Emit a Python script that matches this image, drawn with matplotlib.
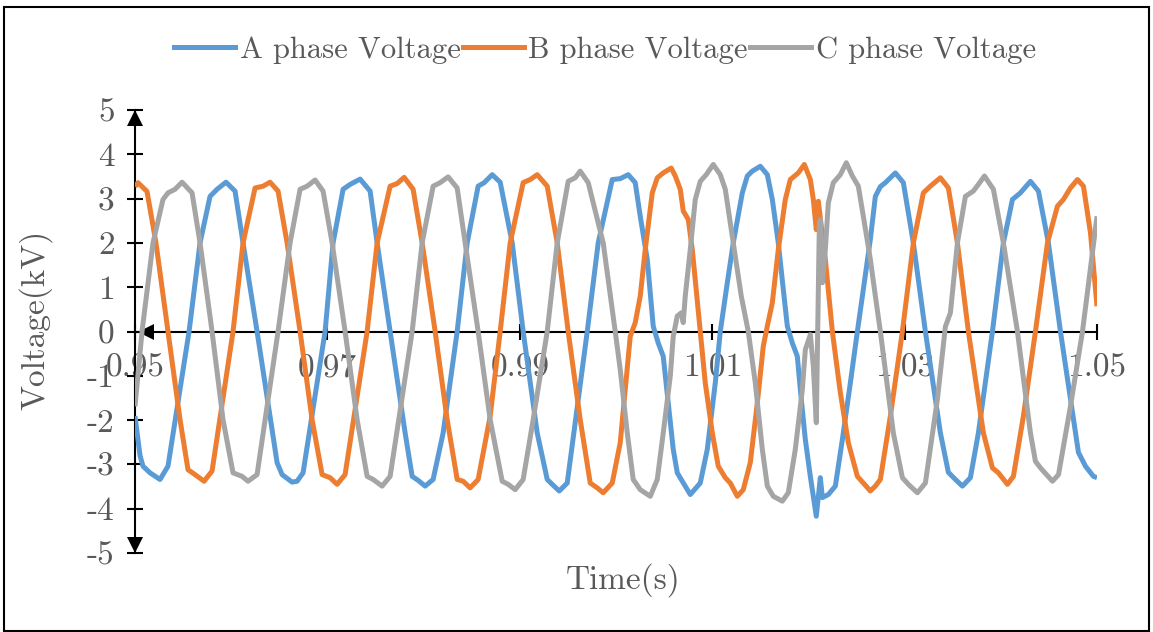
import numpy as np
import matplotlib
matplotlib.use("Agg")
import matplotlib.pyplot as plt
import matplotlib.transforms as mtransforms
from matplotlib.patches import Rectangle
from matplotlib.lines import Line2D

plt.rcParams["font.family"] = ["cmr10", "DejaVu Serif"]
plt.rcParams["axes.unicode_minus"] = False
plt.rcParams["axes.formatter.use_mathtext"] = True

# ---- three-phase voltage waveforms (time in s, voltage in kV) ----
time_a = [0.95000, 0.95052, 0.95083, 0.95156, 0.95260, 0.95343, 0.95562, 0.95676,
          0.95780, 0.95853, 0.95946, 0.96040, 0.96123, 0.96269, 0.96477, 0.96529,
          0.96633, 0.96685, 0.96747, 0.96976, 0.97059, 0.97163, 0.97236, 0.97340,
          0.97444, 0.97517, 0.97652, 0.97808, 0.97881, 0.97943, 0.98016, 0.98099,
          0.98203, 0.98349, 0.98453, 0.98567, 0.98630, 0.98713, 0.98796, 0.98921,
          0.99035, 0.99181, 0.99285, 0.99337, 0.99410, 0.99493, 0.99701, 0.99815,
          0.99961, 1.00044, 1.00127, 1.00200, 1.00252, 1.00325, 1.00356, 1.00387,
          1.00439, 1.00491, 1.00543, 1.00595, 1.00637, 1.00689, 1.00772, 1.00876,
          1.00949, 1.01032, 1.01084, 1.01157, 1.01219, 1.01313, 1.01365, 1.01417,
          1.01500, 1.01573, 1.01625, 1.01687, 1.01739, 1.01781, 1.01833, 1.01885,
          1.01916, 1.01968, 1.02020, 1.02051, 1.02082, 1.02124, 1.02145, 1.02207,
          1.02280, 1.02353, 1.02436, 1.02509, 1.02571, 1.02644, 1.02696, 1.02748,
          1.02800, 1.02904, 1.02987, 1.03091, 1.03216, 1.03372, 1.03455, 1.03528,
          1.03601, 1.03684, 1.03767, 1.03913, 1.04027, 1.04121, 1.04204, 1.04308,
          1.04391, 1.04495, 1.04620, 1.04807, 1.04880, 1.04963, 1.05000]
volt_a = [-1.91, -2.80, -3.04, -3.19, -3.34, -3.04, 0.00, 2.00,
          3.05, 3.21, 3.37, 3.17, 2.00, 0.00, -2.96, -3.23,
          -3.40, -3.38, -3.19, 0.00, 2.00, 3.21, 3.32, 3.44,
          3.17, 2.00, 0.00, -2.29, -3.27, -3.36, -3.49, -3.34,
          -2.29, 0.00, 2.00, 3.28, 3.36, 3.54, 3.37, 2.00,
          0.00, -2.29, -3.34, -3.45, -3.60, -3.42, 0.00, 2.00,
          3.43, 3.45, 3.54, 3.36, 2.60, 1.63, 0.87, 0.12,
          -0.26, -0.56, -1.61, -2.66, -3.19, -3.38, -3.68, -3.42,
          -2.66, -1.16, 0.00, 1.10, 2.00, 3.13, 3.51, 3.62,
          3.73, 3.54, 2.98, 2.00, 0.95, 0.12, -0.26, -0.56,
          -1.31, -2.44, -3.27, -3.72, -4.17, -3.30, -3.75, -3.68,
          -3.49, -2.44, -1.16, 0.00, 0.95, 2.08, 3.05, 3.27,
          3.36, 3.58, 3.36, 2.00, 0.00, -2.29, -3.18, -3.34,
          -3.49, -3.30, -2.29, 0.00, 2.00, 2.98, 3.13, 3.39,
          3.17, 2.00, 0.00, -2.73, -3.04, -3.27, -3.30]

time_b = [0.95000, 0.95031, 0.95125, 0.95218, 0.95343, 0.95468, 0.95551, 0.95624,
          0.95718, 0.95801, 0.96019, 0.96123, 0.96248, 0.96331, 0.96404, 0.96487,
          0.96581, 0.96716, 0.96841, 0.96945, 0.97028, 0.97101, 0.97184, 0.97413,
          0.97517, 0.97652, 0.97725, 0.97798, 0.97891, 0.97985, 0.98120, 0.98245,
          0.98349, 0.98411, 0.98484, 0.98567, 0.98692, 0.98796, 0.98900, 0.99035,
          0.99108, 0.99181, 0.99285, 0.99389, 0.99503, 0.99628, 0.99732, 0.99805,
          0.99867, 0.99961, 1.00044, 1.00096, 1.00148, 1.00200, 1.00252, 1.00304,
          1.00377, 1.00429, 1.00491, 1.00574, 1.00616, 1.00668, 1.00699, 1.00751,
          1.00793, 1.00876, 1.00928, 1.01001, 1.01063, 1.01136, 1.01188, 1.01261,
          1.01323, 1.01396, 1.01469, 1.01531, 1.01573, 1.01625, 1.01687, 1.01760,
          1.01812, 1.01895, 1.01958, 1.02020, 1.02051, 1.02082, 1.02103, 1.02134,
          1.02176, 1.02249, 1.02332, 1.02415, 1.02509, 1.02571, 1.02644, 1.02696,
          1.02748, 1.02852, 1.02977, 1.03091, 1.03195, 1.03268, 1.03372, 1.03455,
          1.03549, 1.03663, 1.03819, 1.03913, 1.03975, 1.04069, 1.04131, 1.04235,
          1.04360, 1.04485, 1.04589, 1.04651, 1.04724, 1.04797, 1.04859, 1.04932,
          1.05000]
volt_b = [3.27, 3.36, 3.16, 2.00, 0.00, -1.99, -3.12, -3.23,
          -3.38, -3.15, 0.00, 2.00, 3.24, 3.28, 3.37, 3.17,
          2.00, 0.00, -1.99, -3.23, -3.30, -3.45, -3.23, 0.00,
          2.00, 3.28, 3.34, 3.48, 3.21, 2.00, 0.00, -1.99,
          -3.34, -3.38, -3.53, -3.34, -1.91, 0.00, 2.00, 3.36,
          3.43, 3.54, 3.28, 2.00, 0.00, -1.99, -3.42, -3.53,
          -3.64, -3.42, -2.51, -1.31, -0.11, 0.20, 0.80, 1.85,
          3.13, 3.47, 3.58, 3.69, 3.51, 3.21, 2.72, 2.53,
          1.85, 0.00, -1.16, -2.29, -3.04, -3.30, -3.42, -3.72,
          -3.57, -2.96, -1.61, -0.33, 0.12, 0.65, 1.85, 2.98,
          3.43, 3.58, 3.77, 3.43, 2.98, 2.30, 2.94, 2.38,
          1.63, 0.00, -1.38, -2.51, -3.27, -3.42, -3.60, -3.49,
          -3.34, -1.91, 0.00, 2.00, 3.13, 3.28, 3.47, 3.24,
          2.00, 0.00, -2.29, -3.08, -3.19, -3.45, -3.27, -1.91,
          0.00, 2.00, 2.83, 2.98, 3.24, 3.43, 3.28, 2.23,
          0.57]

time_c = [0.95000, 0.95073, 0.95187, 0.95291, 0.95343, 0.95416, 0.95489, 0.95593,
          0.95676, 0.95801, 0.95915, 0.96019, 0.96113, 0.96175, 0.96269, 0.96487,
          0.96612, 0.96716, 0.96789, 0.96872, 0.96955, 0.97049, 0.97184, 0.97309,
          0.97413, 0.97475, 0.97569, 0.97652, 0.97881, 0.97985, 0.98099, 0.98172,
          0.98255, 0.98349, 0.98432, 0.98567, 0.98692, 0.98817, 0.98879, 0.98952,
          0.99035, 0.99139, 0.99285, 0.99389, 0.99503, 0.99576, 0.99628, 0.99711,
          0.99867, 0.99992, 1.00044, 1.00117, 1.00179, 1.00252, 1.00356, 1.00429,
          1.00491, 1.00564, 1.00595, 1.00637, 1.00678, 1.00699, 1.00720, 1.00772,
          1.00824, 1.00876, 1.00938, 1.01011, 1.01084, 1.01136, 1.01219, 1.01302,
          1.01375, 1.01448, 1.01521, 1.01573, 1.01635, 1.01729, 1.01791, 1.01864,
          1.01937, 1.01968, 1.02020, 1.02051, 1.02082, 1.02114, 1.02124, 1.02145,
          1.02176, 1.02207, 1.02259, 1.02332, 1.02394, 1.02457, 1.02519, 1.02571,
          1.02644, 1.02696, 1.02748, 1.02883, 1.02977, 1.03039, 1.03133, 1.03216,
          1.03341, 1.03424, 1.03476, 1.03549, 1.03632, 1.03715, 1.03767, 1.03830,
          1.03923, 1.04027, 1.04173, 1.04308, 1.04360, 1.04413, 1.04537, 1.04600,
          1.04724, 1.04849, 1.05000]
volt_c = [-1.69, 0.00, 2.00, 2.98, 3.13, 3.21, 3.37, 3.13,
          2.00, 0.00, -1.99, -3.19, -3.27, -3.38, -3.23, 0.00,
          2.00, 3.21, 3.28, 3.42, 3.17, 2.00, 0.00, -1.99,
          -3.27, -3.34, -3.49, -3.27, 0.00, 2.00, 3.28, 3.36,
          3.49, 3.24, 2.00, 0.00, -1.99, -3.38, -3.45, -3.57,
          -3.34, -1.99, 0.00, 2.00, 3.39, 3.47, 3.62, 3.36,
          2.00, 0.00, -0.86, -2.29, -3.34, -3.57, -3.72, -3.34,
          -2.29, -1.01, -0.11, 0.35, 0.42, 0.20, 0.80, 1.85,
          2.98, 3.39, 3.54, 3.77, 3.54, 3.21, 2.00, 0.80,
          0.00, -1.16, -2.66, -3.49, -3.72, -3.83, -3.64, -2.66,
          -1.31, -0.41, -0.07, -0.78, -2.06, 2.45, 2.53, 1.10,
          1.85, 2.90, 3.36, 3.54, 3.81, 3.51, 3.28, 2.60,
          1.63, 0.80, 0.00, -2.29, -3.30, -3.45, -3.64, -3.42,
          -1.53, 0.11, 0.42, 2.00, 3.05, 3.17, 3.32, 3.51,
          3.21, 2.00, 0.00, -2.29, -2.93, -3.08, -3.38, -3.23,
          -1.69, 0.00, 2.60]

series_names = ["A phase Voltage", "B phase Voltage", "C phase Voltage"]
series_colors = ["#5B9BD5", "#ED7D31", "#A5A5A5"]

x_ticks = [0.95, 0.97, 0.99, 1.01, 1.03, 1.05]
x_tick_labels = ["0.95", "0.97", "0.99", "1.01", "1.03", "1.05"]
y_ticks = [-5, -4, -3, -2, -1, 0, 1, 2, 3, 4, 5]
y_tick_labels = ["-5", "-4", "-3", "-2", "-1", "0", "1", "2", "3", "4", "5"]

TEXT = "#595959"
FS = 24
LW = 3.6
W, H = 1153, 632

fig = plt.figure(figsize=(W / 100, H / 100), dpi=100)
ax = fig.add_axes([135 / W, 1 - 553 / H, (1097 - 135) / W, (553 - 110) / H])
ax.set_xlim(0.95, 1.05)
ax.set_ylim(-5, 5)
ax.patch.set_alpha(0)

series = [(time_a, volt_a), (time_b, volt_b), (time_c, volt_c)]
for (t, v), name, col in zip(series, series_names, series_colors):
    ax.plot(t, v, color=col, lw=LW, solid_joinstyle="round",
            solid_capstyle="butt", label=name, zorder=3)

# axes drawn as crossing lines through the origin of the voltage scale
for side in ("top", "right"):
    ax.spines[side].set_visible(False)
ax.spines["bottom"].set_position(("data", 0))
for side in ("left", "bottom"):
    ax.spines[side].set_linewidth(1.5)
    ax.spines[side].set_color("black")
    ax.spines[side].set_zorder(2)

ax.set_xticks(x_ticks)
ax.set_xticklabels(x_tick_labels)
ax.set_yticks(y_ticks)
ax.set_yticklabels(y_tick_labels)
ax.tick_params(axis="both", direction="inout", length=11.5, width=1.5,
               color="black", labelcolor=TEXT, labelsize=FS)
ax.tick_params(axis="x", pad=10)
ax.tick_params(axis="y", pad=9)

# arrowheads at the axis ends
def axis_arrow(x, y, marker, dx_px, dy_px, size):
    tr = ax.transData + mtransforms.ScaledTranslation(dx_px / 100, dy_px / 100,
                                                      fig.dpi_scale_trans)
    ax.plot([x], [y], marker=marker, ms=size, color="black", mec="black", mew=0,
            transform=tr, clip_on=False, zorder=2.5, linestyle="none")

axis_arrow(0.95, 5, "^", 0, -8.5, 12)
axis_arrow(0.95, -5, "v", 0, 8.5, 12)
axis_arrow(0.95, 0, "<", 11, 0, 11)

fig.text(623 / W, 1 - 580 / H, "Time(s)", color=TEXT, fontsize=FS,
         ha="center", va="center")
fig.text(35 / W, 1 - 320 / H, "Voltage(kV)", color=TEXT, fontsize=FS,
         ha="center", va="center", rotation=90)

handles = [Line2D([], [], color=c, lw=LW) for c in series_colors]
fig.legend(handles, series_names, loc="center", ncol=3, frameon=False,
           bbox_to_anchor=(605 / W, 1 - 50 / H), fontsize=22, labelcolor=TEXT,
           handlelength=2.0, handletextpad=0.15, columnspacing=0.06,
           borderpad=0, borderaxespad=0)

fig.patches.append(Rectangle((4 / W, 1 / H), (1149 - 4) / W, (625.5 - 1) / H,
                             transform=fig.transFigure, fill=False,
                             lw=1.5, ec="black"))

fig.savefig("out.png", dpi=100)
